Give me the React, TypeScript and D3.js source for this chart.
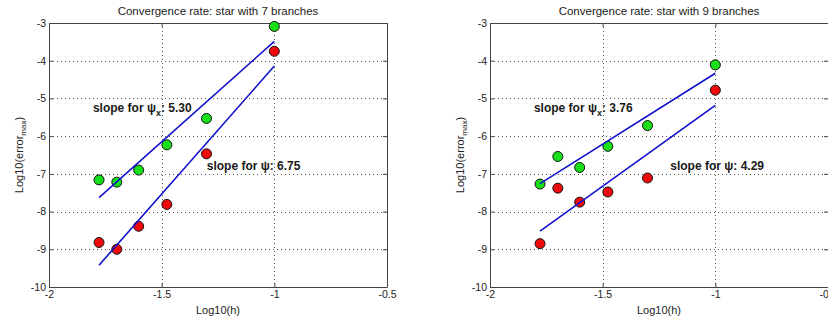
import React, { useEffect, useRef } from "react";
import * as d3 from "d3";

// log10(h) for h = 1/60, 1/50, 1/40, 1/30, 1/20, 1/10
const logH = [-1.778, -1.699, -1.602, -1.477, -1.301, -1.0];

// log10(error_max)
const star7PsiX = [-7.16, -7.22, -6.9, -6.23, -5.53, -3.09];
const star7Psi = [-8.82, -9.0, -8.39, -7.81, -6.47, -3.75];
const star9PsiX = [-7.27, -6.54, -6.83, -6.27, -5.72, -4.11];
const star9Psi = [-8.85, -7.38, -7.75, -7.48, -7.11, -4.78];

const xTicks = [-2, -1.5, -1, -0.5];
const yTicks = [-10, -9, -8, -7, -6, -5, -4, -3];

const titles = [
  "Convergence rate: star with 7 branches",
  "Convergence rate: star with 9 branches",
];
const slopePsiX = ["5.30", "3.76"];
const slopePsi = ["6.75", "4.29"];

// least squares fit, returns [slope, intercept]
const fit = (xs, ys) => {
  const mx = d3.mean(xs);
  const my = d3.mean(ys);
  const sxy = d3.sum(xs, (x, i) => (x - mx) * (ys[i] - my));
  const sxx = d3.sum(xs, (x) => (x - mx) * (x - mx));
  const s = sxy / sxx;
  return [s, my - s * mx];
};

const panels = [
  {
    left: 49,
    title: titles[0],
    psiX: star7PsiX,
    psi: star7Psi,
    labelX: { x: -1.805, y: -5.25, text: slopePsiX[0] },
    label: { x: -1.3, y: -6.78, text: slopePsi[0] },
  },
  {
    left: 490,
    title: titles[1],
    psiX: star9PsiX,
    psi: star9Psi,
    labelX: { x: -1.805, y: -5.25, text: slopePsiX[1] },
    label: { x: -1.2, y: -6.78, text: slopePsi[1] },
  },
];

const svgWidth = 828;
const svgHeight = 322;
const top = 23;
const bottom = 287;
const boxWidth = 338;
const font = "'Liberation Sans', Arial, sans-serif";

const App = () => {
  const svgRef = useRef(null);

  useEffect(() => {
    const svg = d3
      .select(svgRef.current)
      .attr("width", svgWidth)
      .attr("height", svgHeight);
    svg.selectAll("*").remove();

    svg
      .append("rect")
      .attr("width", svgWidth)
      .attr("height", svgHeight)
      .attr("fill", "white");

    panels.forEach((p) => {
      const xScale = d3
        .scaleLinear()
        .domain([-2, -0.5])
        .range([p.left, p.left + boxWidth]);
      const yScale = d3.scaleLinear().domain([-10, -3]).range([bottom, top]);
      const g = svg.append("g");

      // grid
      g.selectAll(".gx")
        .data(xTicks.slice(1, -1))
        .enter()
        .append("line")
        .attr("x1", (d) => Math.round(xScale(d)) + 0.5)
        .attr("x2", (d) => Math.round(xScale(d)) + 0.5)
        .attr("y1", top)
        .attr("y2", bottom)
        .attr("stroke", "#555")
        .attr("stroke-width", 1)
        .attr("stroke-dasharray", "1,3");
      g.selectAll(".gy")
        .data(yTicks.slice(1, -1))
        .enter()
        .append("line")
        .attr("x1", p.left)
        .attr("x2", p.left + boxWidth)
        .attr("y1", (d) => Math.round(yScale(d)) + 0.5)
        .attr("y2", (d) => Math.round(yScale(d)) + 0.5)
        .attr("stroke", "#555")
        .attr("stroke-width", 1)
        .attr("stroke-dasharray", "1,3");

      // axes with inward ticks on all four sides
      const axisStyle = (sel) => {
        sel.selectAll(".domain").attr("stroke", "#444");
        sel.selectAll(".tick line").attr("stroke", "#444");
        sel
          .selectAll(".tick text")
          .attr("fill", "#222")
          .style("font-family", font)
          .style("font-size", "10.5px");
      };
      const fmt = (d) => String(d);
      g.append("g")
        .attr("transform", `translate(0,${bottom})`)
        .call(
          d3.axisBottom(xScale).tickValues(xTicks).tickFormat(fmt).tickSize(-4).tickSizeOuter(0).tickPadding(4)
        )
        .call(axisStyle);
      g.append("g")
        .attr("transform", `translate(0,${top})`)
        .call(
          d3.axisTop(xScale).tickValues(xTicks).tickFormat(() => "").tickSize(-4).tickSizeOuter(0)
        )
        .call(axisStyle);
      g.append("g")
        .attr("transform", `translate(${p.left},0)`)
        .call(
          d3.axisLeft(yScale).tickValues(yTicks).tickFormat(fmt).tickSize(-4).tickSizeOuter(0).tickPadding(3)
        )
        .call(axisStyle);
      g.append("g")
        .attr("transform", `translate(${p.left + boxWidth},0)`)
        .call(
          d3.axisRight(yScale).tickValues(yTicks).tickFormat(() => "").tickSize(-4).tickSizeOuter(0)
        )
        .call(axisStyle);

      // title and axis labels
      g.append("text")
        .attr("x", p.left + boxWidth / 2)
        .attr("y", 15)
        .attr("text-anchor", "middle")
        .attr("fill", "#222")
        .style("font-family", font)
        .style("font-size", "11.5px")
        .text(p.title);
      g.append("text")
        .attr("x", p.left + boxWidth / 2)
        .attr("y", 314)
        .attr("text-anchor", "middle")
        .attr("fill", "#222")
        .style("font-family", font)
        .style("font-size", "11px")
        .text("Log10(h)");
      const yl = g
        .append("text")
        .attr("transform", `translate(${p.left - 26},${(top + bottom) / 2}) rotate(-90)`)
        .attr("text-anchor", "middle")
        .attr("fill", "#222")
        .style("font-family", font)
        .style("font-size", "11px");
      yl.append("tspan").text("Log10(error");
      yl.append("tspan").attr("dy", 3).style("font-size", "8px").text("max");
      yl.append("tspan").attr("dy", -3).text(")");

      // markers
      const series = [
        { ys: p.psiX, fill: "#18e018" },
        { ys: p.psi, fill: "#ee0a0a" },
      ];
      series.forEach((s) => {
        g.selectAll(null)
          .data(logH)
          .enter()
          .append("circle")
          .attr("cx", (d) => xScale(d))
          .attr("cy", (d, i) => yScale(s.ys[i]))
          .attr("r", 5)
          .attr("fill", s.fill)
          .attr("stroke", "#111")
          .attr("stroke-width", 1);
      });

      // fitted lines
      series.forEach((s) => {
        const [k, b] = fit(logH, s.ys);
        const ends = d3.extent(logH);
        g.append("line")
          .attr("x1", xScale(ends[0]))
          .attr("y1", yScale(k * ends[0] + b))
          .attr("x2", xScale(ends[1]))
          .attr("y2", yScale(k * ends[1] + b))
          .attr("stroke", "#1010cc")
          .attr("stroke-width", 1.6);
      });

      // slope labels
      const label = (l, sub) => {
        const t = g
          .append("text")
          .attr("x", xScale(l.x))
          .attr("y", yScale(l.y) + 4)
          .attr("fill", "#1a1a1a")
          .style("font-family", font)
          .style("font-size", "12px")
          .style("font-weight", "bold");
        t.append("tspan").text("slope for ψ");
        if (sub) {
          t.append("tspan").attr("dy", 4).style("font-size", "9px").text("x");
          t.append("tspan").attr("dy", -4).text(": " + l.text);
        } else {
          t.append("tspan").text(": " + l.text);
        }
      };
      label(p.labelX, true);
      label(p.label, false);
    });
  }, []);

  return (
    <svg
      ref={svgRef}
      style={{ position: "absolute", left: 0, top: 0, display: "block" }}
    ></svg>
  );
};

export default App;
